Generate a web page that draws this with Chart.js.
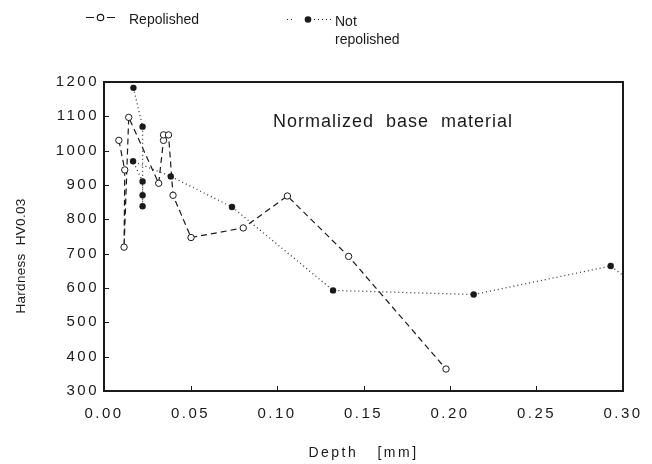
<!DOCTYPE html>
<html>
<head>
<meta charset="utf-8">
<script src="https://cdn.jsdelivr.net/npm/chart.js@4/dist/chart.umd.min.js"></script>
<style>
  body { margin: 0; background: #fff; }
  #wrap { width: 652px; height: 464px; }
</style>
</head>
<body>
<div id="wrap"><canvas id="chart" width="652" height="464"></canvas></div>
<script>
// Repolished (open circles, dashed line)
const depthRep = [0.0086, 0.0120, 0.0116, 0.0143, 0.0316, 0.0344, 0.0344, 0.0373, 0.0399, 0.0503, 0.0805, 0.1060, 0.1414, 0.1977];
const hardRep  = [1030, 944, 719, 1097, 905, 1030, 1046, 1046, 870, 747, 775, 868, 692, 364];

// Not repolished (filled circles, dotted line) - last point runs off the right edge
const depthNot = [0.0170, 0.0223, 0.0223, 0.0223, 0.0223, 0.0168, 0.0386, 0.0740, 0.1324, 0.2137, 0.2929, 0.3200];
const hardNot  = [1183, 1070, 838, 870, 910, 969, 925, 836, 593, 581, 664, 560];

const labelRep = 'Repolished';
const labelNot = ['Not', 'repolished'];
const noteText = 'Normalized  base  material';
const xTitle = 'Depth   [mm]';
const yTitle = 'Hardness  HV0.03';

const ink = '#1a1a1a';

function toPoints(xs, ys) {
    return xs.map((x, i) => ({ x: x, y: ys[i] }));
}

// frame, inward ticks, legend, note and y title
const decorations = {
    id: 'decorations',
    beforeDraw(chart) {
        chart.ctx.letterSpacing = '2.5px';
    },
    beforeDatasetsDraw(chart) {
        chart.ctx.letterSpacing = '0px';
    },
    afterDraw(chart) {
        const { ctx, chartArea: a, scales: { x, y } } = chart;
        ctx.save();
        ctx.letterSpacing = '0px';
        ctx.strokeStyle = ink;
        ctx.lineWidth = 2;
        ctx.strokeRect(a.left, a.top, a.right - a.left, a.bottom - a.top);

        // ticks pointing into the plot
        ctx.lineWidth = 1;
        ctx.beginPath();
        x.ticks.forEach((t, i) => {
            const px = Math.round(x.getPixelForTick(i)) + 0.5;
            ctx.moveTo(px, a.bottom);
            ctx.lineTo(px, a.bottom - 5);
        });
        y.ticks.forEach((t, i) => {
            const py = Math.round(y.getPixelForTick(i)) + 0.5;
            ctx.moveTo(a.left, py);
            ctx.lineTo(a.left + 5, py);
        });
        ctx.stroke();

        // legend
        ctx.fillStyle = ink;
        ctx.font = '14px "Liberation Sans", Arial, sans-serif';
        ctx.textBaseline = 'alphabetic';
        ctx.textAlign = 'left';

        ctx.setLineDash([]);
        ctx.lineWidth = 1.2;
        ctx.beginPath();
        ctx.moveTo(86, 17.5); ctx.lineTo(94, 17.5);
        ctx.moveTo(107, 17.5); ctx.lineTo(115, 17.5);
        ctx.stroke();
        ctx.beginPath();
        ctx.arc(100.5, 17.5, 3.2, 0, Math.PI * 2);
        ctx.fillStyle = '#fff';
        ctx.fill();
        ctx.stroke();
        ctx.fillStyle = ink;
        ctx.fillText(labelRep, 129, 24);

        ctx.setLineDash([1, 3]);
        ctx.beginPath();
        ctx.moveTo(287, 19.5); ctx.lineTo(295, 19.5);
        ctx.moveTo(314, 19.5); ctx.lineTo(331, 19.5);
        ctx.stroke();
        ctx.setLineDash([]);
        ctx.beginPath();
        ctx.arc(308, 19.5, 3.3, 0, Math.PI * 2);
        ctx.fill();
        ctx.fillText(labelNot[0], 335, 25.5);
        ctx.fillText(labelNot[1], 335, 44);

        // note inside the plot
        ctx.font = '18px "Liberation Sans", Arial, sans-serif';
        ctx.letterSpacing = '1px';
        ctx.fillText(noteText, 273, 127);

        // y axis title
        ctx.letterSpacing = '0.3px';
        ctx.font = '13.5px "Liberation Sans", Arial, sans-serif';
        ctx.translate(25, 256);
        ctx.rotate(-Math.PI / 2);
        ctx.textAlign = 'center';
        ctx.fillText(yTitle, 0, 0);
        ctx.restore();
    }
};

Chart.defaults.font.family = '"Liberation Sans", Arial, sans-serif';
Chart.defaults.color = ink;

new Chart(document.getElementById('chart'), {
    type: 'scatter',
    data: {
        datasets: [{
            label: labelRep,
            data: toPoints(depthRep, hardRep),
            showLine: true,
            borderColor: ink,
            borderWidth: 1.2,
            borderDash: [6, 4],
            pointRadius: 3.2,
            pointBackgroundColor: '#fff',
            pointBorderColor: ink,
            pointBorderWidth: 1,
            clip: 0
        }, {
            label: labelNot.join(' '),
            data: toPoints(depthNot, hardNot),
            showLine: true,
            borderColor: '#333',
            borderWidth: 1.3,
            borderDash: [1, 3],
            pointRadius: 3.2,
            pointBackgroundColor: ink,
            pointBorderColor: ink,
            pointBorderWidth: 0,
            clip: 0
        }]
    },
    options: {
        responsive: false,
        animation: false,
        layout: { padding: { top: 82, right: 29, left: 0, bottom: 0 } },
        plugins: {
            legend: { display: false },
            tooltip: { enabled: false }
        },
        scales: {
            x: {
                type: 'linear',
                min: 0,
                max: 0.3,
                afterFit: s => { s.height = 73; },
                border: { display: false },
                grid: { display: false, drawTicks: false },
                ticks: {
                    stepSize: 0.05,
                    padding: 14,
                    maxRotation: 0,
                    font: { size: 15 },
                    callback: v => v.toFixed(2)
                },
                title: {
                    display: true,
                    text: xTitle,
                    font: { size: 14 },
                    padding: { top: 0, bottom: 2 }
                }
            },
            y: {
                min: 300,
                max: 1200,
                afterFit: s => { s.width = 104; },
                border: { display: false },
                grid: { display: false, drawTicks: false },
                ticks: {
                    stepSize: 100,
                    padding: 5,
                    font: { size: 15 },
                    callback: v => String(v)
                }
            }
        }
    },
    plugins: [decorations]
});
</script>
</body>
</html>
